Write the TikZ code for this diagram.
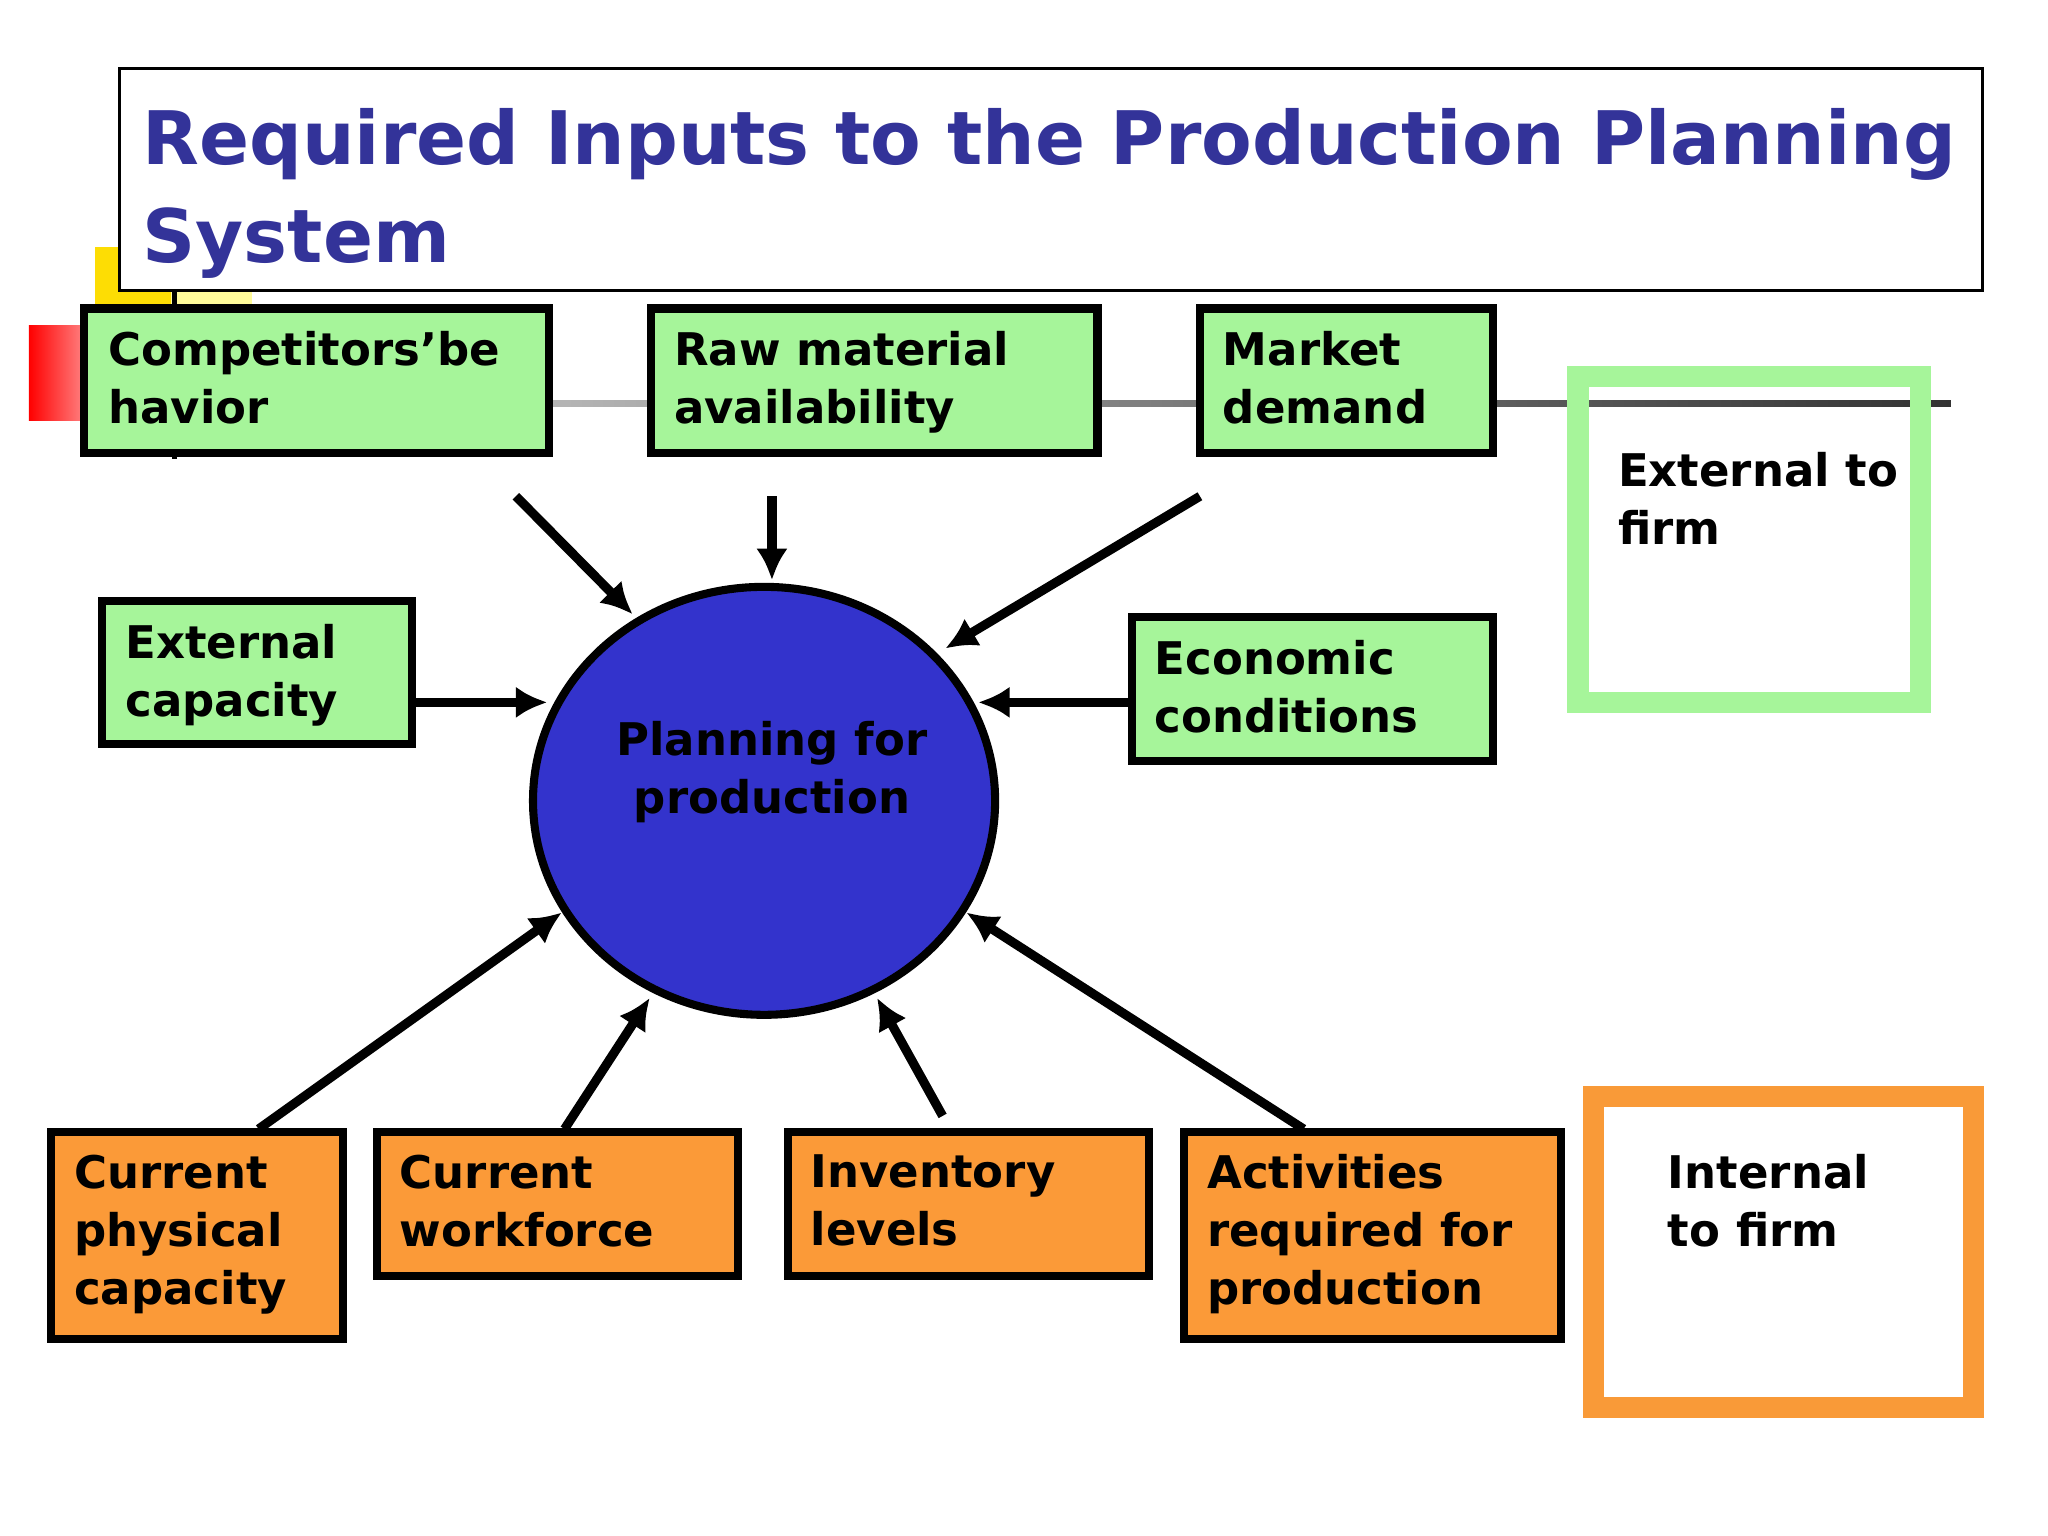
\documentclass[tikz,border=0pt]{standalone}
\usepackage{fontspec}
\setmainfont{DejaVu Sans}
\usetikzlibrary{arrows.meta}
\definecolor{tblue}{HTML}{333399}
\definecolor{gfill}{HTML}{A6F59A}
\definecolor{ofill}{HTML}{FB9A38}
\definecolor{cblue}{HTML}{3333CC}
\definecolor{lgreen}{HTML}{A6F59A}
\definecolor{lorange}{HTML}{F99A38}
\begin{document}
\begin{tikzpicture}[x=0.013128cm,y=-0.013128cm,
 box/.style={draw=black,line width=2.3pt},
 lab/.style={anchor=north west,align=left,font=\bfseries\fontsize{12.8}{16.5}\selectfont,inner sep=0pt},
 arr/.style={line width=2.6pt,-{Latex[length=9pt,width=9pt]}}]
\useasboundingbox (0,0) rectangle (1560,1170);
% decorations
\fill[yellow!80!orange] (72,188) rectangle (130,248);
\fill[yellow!40] (130,200) rectangle (192,250);
\shade[left color=red,right color=red!40] (22,248) rectangle (72,320);
\shade[left color=gray!30,right color=black!80] (130,305) rectangle (1486,310);
\draw[line width=1.5pt] (133,188) -- (133,350);
% title
\draw[fill=white,line width=0.8pt] (91,52) rectangle (1510,221);
\node[anchor=north west,align=left,text=tblue,font=\bfseries\fontsize{21}{28}\selectfont,inner sep=0pt] (title) at (108,82) {Required Inputs to the Production Planning\\System};
% boxes
\draw[box,fill=gfill] (64,235) rectangle (418,345); \node[lab] (c1) at (82,252) {Competitors’be\\havior};
\draw[box,fill=gfill] (496,235) rectangle (836,345); \node[lab] (c2) at (513,252) {Raw material\\availability};
\draw[box,fill=gfill] (914,235) rectangle (1137,345); \node[lab] (c3) at (931,252) {Market\\demand};
\draw[box,fill=gfill] (78,458) rectangle (314,567); \node[lab] (c4) at (95,475) {External\\capacity};
\draw[box,fill=gfill] (862,470) rectangle (1137,580); \node[lab] (c5) at (879,487) {Economic\\conditions};
\draw[box,fill=ofill] (39,862) rectangle (261,1020); \node[lab] (d1) at (56,879) {Current\\physical\\capacity};
\draw[box,fill=ofill] (287,862) rectangle (562,972); \node[lab] (d2) at (304,879) {Current\\workforce};
\draw[box,fill=ofill] (600,862) rectangle (875,972); \node[lab] (d3) at (617,879) {Inventory\\levels};
\draw[box,fill=ofill] (902,862) rectangle (1189,1020); \node[lab] (d4) at (919,879) {Activities\\required for\\production};
% legend
\draw[lgreen,line width=6pt] (1202,287) rectangle (1463,535); \node[lab] (l1) at (1232,344) {External to\\firm};
\draw[lorange,line width=6pt] (1214,835) rectangle (1503,1072); \node[lab] (l2) at (1270,879) {Internal\\to firm};
% circle
\draw[fill=cblue,line width=2.3pt] (582,610) ellipse [x radius=176,y radius=163];
\node[align=center,font=\bfseries\fontsize{12.8}{16.5}\selectfont] (pl) at (588,588) {Planning for\\production};
% arrows
\coordinate (a1) at (393,378); \coordinate (b1) at (482,468);
\coordinate (a2) at (588,378); \coordinate (b2) at (588,442);
\coordinate (a3) at (914,378); \coordinate (b3) at (720,494);
\coordinate (a4) at (314,535); \coordinate (b4) at (417,535);
\coordinate (a5) at (862,535); \coordinate (b5) at (745,535);
\coordinate (a6) at (197,860); \coordinate (b6) at (428,695);
\coordinate (a7) at (430,860); \coordinate (b7) at (495,760);
\coordinate (a8) at (718,850); \coordinate (b8) at (668,760);
\coordinate (a9) at (993,860); \coordinate (b9) at (736,695);
\foreach \i in {1,...,9} \draw[arr] (a\i) -- (b\i);
\end{tikzpicture}
\end{document}
